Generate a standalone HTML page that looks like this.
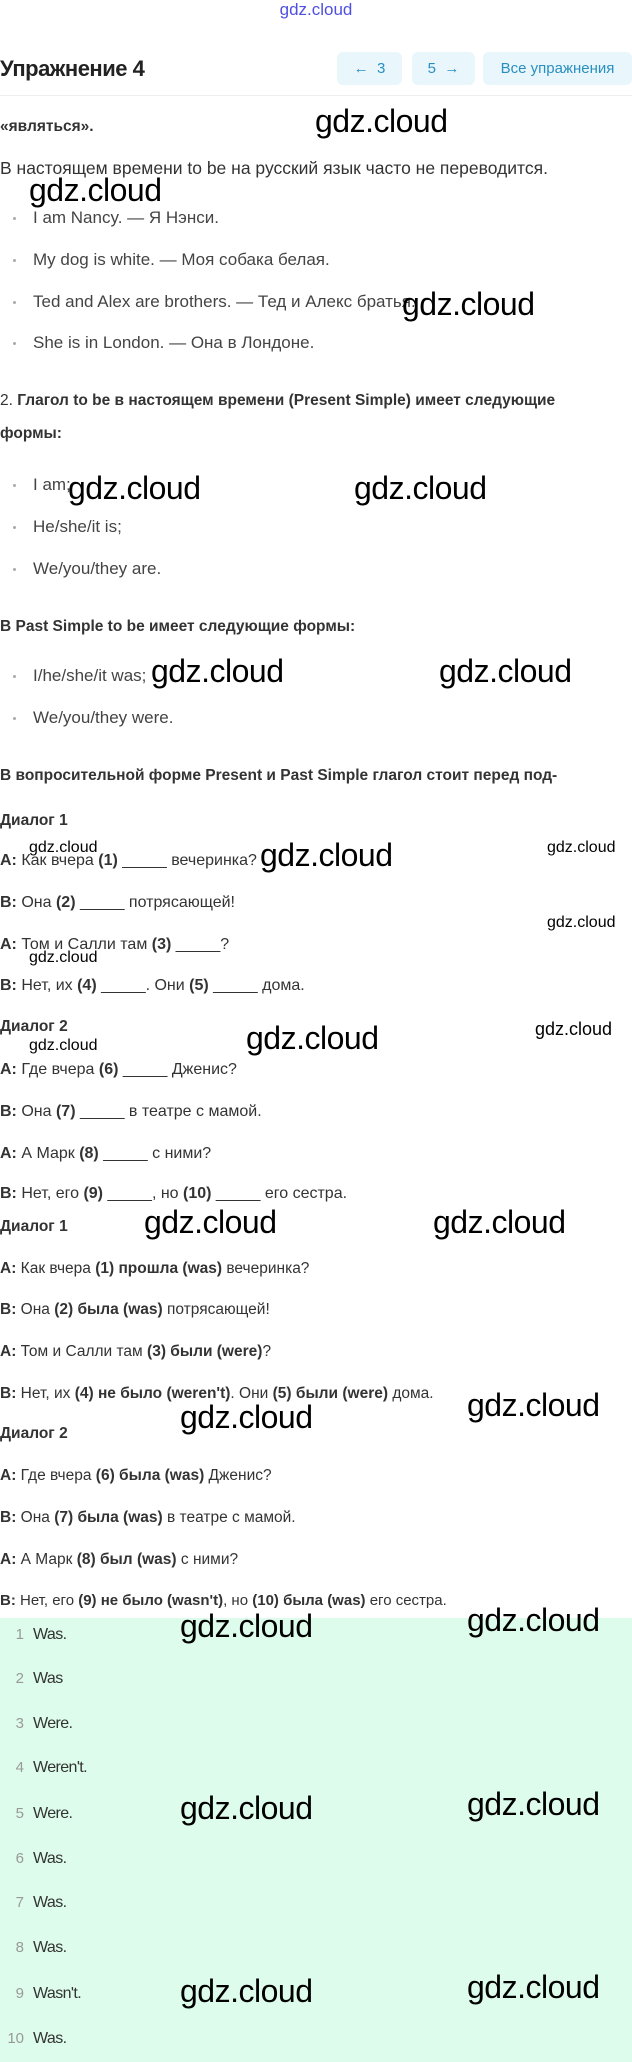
<!DOCTYPE html>
<html><head><meta charset="utf-8"><style>
body{margin:0;width:632px;height:2062px;position:relative;background:#fff;overflow:hidden;font-family:"Liberation Sans","Noto Sans CJK SC",sans-serif;color:#333}
.t{position:absolute;left:0;font-size:16px;line-height:20px;white-space:nowrap}
.b{font-weight:bold;font-size:15.5px}
.li{position:absolute;left:33px;font-size:17px;line-height:20px;white-space:nowrap;color:#444}
.li:before{content:"";position:absolute;left:-20px;top:9px;width:3px;height:3px;border-radius:50%;background:#aaa}
.w{position:absolute;font-size:32px;line-height:36px;color:#000;white-space:nowrap;letter-spacing:-0.5px}
.ws{position:absolute;font-size:16px;line-height:18px;color:#000;white-space:nowrap}
.btn{position:absolute;top:52px;height:33px;background:#e9f7fc;border-radius:6px;color:#2a8fc0;font-size:15px;line-height:33px;text-align:center}
.g{position:absolute;left:0;top:1618px;width:632px;height:444px;background:#ddfcec}
.n{position:absolute;left:0;width:24px;text-align:right;color:#999;font-size:15px;line-height:20px}
.a{position:absolute;left:33px;color:#333;font-size:16px;line-height:20px;letter-spacing:-0.6px}
</style></head><body>
<div style="position:absolute;left:0;width:632px;top:0;text-align:center;font-size:17px;line-height:20px;color:#5050e0">gdz.cloud</div>
<div style="position:absolute;left:0;top:54px;font-size:22px;line-height:30px;font-weight:bold;color:#222;letter-spacing:-0.5px">Упражнение 4</div>
<div class="btn" style="left:337px;width:65px">←&nbsp; 3</div>
<div class="btn" style="left:412px;width:63px">5 &nbsp;→</div>
<div class="btn" style="left:483px;width:149px">Все упражнения</div>
<div style="position:absolute;left:0;top:95px;width:632px;height:1px;background:#eee"></div>

<div class="t b" style="top:117px">«являться».</div>
<div class="t" style="top:158px;font-size:17.5px">В настоящем времени to be на русский язык часто не переводится.</div>
<div class="li" style="top:208px">I am Nancy. — Я Нэнси.</div>
<div class="li" style="top:250px">My dog is white. — Моя собака белая.</div>
<div class="li" style="top:292px">Ted and Alex are brothers. — Тед и Алекс братья.</div>
<div class="li" style="top:333px">She is in London. — Она в Лондоне.</div>
<div class="t b" style="top:391px"><span style="font-weight:normal">2.</span> Глагол to be в настоящем времени (Present Simple) имеет следующие</div>
<div class="t b" style="top:424px">формы:</div>
<div class="li" style="top:475px">I am;</div>
<div class="li" style="top:517px">He/she/it is;</div>
<div class="li" style="top:559px">We/you/they are.</div>
<div class="t b" style="top:617px">В Past Simple to be имеет следующие формы:</div>
<div class="li" style="top:666px">I/he/she/it was;</div>
<div class="li" style="top:708px">We/you/they were.</div>
<div class="t b" style="top:766px">В вопросительной форме Present и Past Simple глагол стоит перед под-</div>
<div class="t b" style="top:811px">Диалог 1</div>
<div class="t" style="top:851px"><b>A:</b> Как вчера <b>(1)</b> _____ вечеринка?</div>
<div class="t" style="top:893px"><b>B:</b> Она <b>(2)</b> _____ потрясающей!</div>
<div class="t" style="top:935px"><b>A:</b> Том и Салли там <b>(3)</b> _____?</div>
<div class="t" style="top:976px"><b>B:</b> Нет, их <b>(4)</b> _____. Они <b>(5)</b> _____ дома.</div>
<div class="t b" style="top:1017px">Диалог 2</div>
<div class="t" style="top:1060px"><b>A:</b> Где вчера <b>(6)</b> _____ Дженис?</div>
<div class="t" style="top:1102px"><b>B:</b> Она <b>(7)</b> _____ в театре с мамой.</div>
<div class="t" style="top:1144px"><b>A:</b> А Марк <b>(8)</b> _____ с ними?</div>
<div class="t" style="top:1184px"><b>B:</b> Нет, его <b>(9)</b> _____, но <b>(10)</b> _____ его сестра.</div>
<div class="t b" style="top:1217px">Диалог 1</div>
<div class="t" style="top:1259px;font-size:15.5px"><b>A:</b> Как вчера <b>(1) прошла (was)</b> вечеринка?</div>
<div class="t" style="top:1300px;font-size:15.5px"><b>B:</b> Она <b>(2) была (was)</b> потрясающей!</div>
<div class="t" style="top:1342px;font-size:15.5px"><b>A:</b> Том и Салли там <b>(3) были (were)</b>?</div>
<div class="t" style="top:1384px;font-size:15.5px"><b>B:</b> Нет, их <b>(4) не было (weren't)</b>. Они <b>(5) были (were)</b> дома.</div>
<div class="t b" style="top:1424px">Диалог 2</div>
<div class="t" style="top:1466px;font-size:15.5px"><b>A:</b> Где вчера <b>(6) была (was)</b> Дженис?</div>
<div class="t" style="top:1508px;font-size:15.5px"><b>B:</b> Она <b>(7) была (was)</b> в театре с мамой.</div>
<div class="t" style="top:1550px;font-size:15.5px"><b>A:</b> А Марк <b>(8) был (was)</b> с ними?</div>
<div class="t" style="top:1591px;font-size:15px"><b>B:</b> Нет, его <b>(9) не было (wasn't)</b>, но <b>(10) была (was)</b> его сестра.</div>

<div class="g"></div>
<div class="n" style="top:1625px">1</div><div class="a" style="top:1625px">Was.</div>
<div class="n" style="top:1669px">2</div><div class="a" style="top:1669px">Was</div>
<div class="n" style="top:1714px">3</div><div class="a" style="top:1714px">Were.</div>
<div class="n" style="top:1758px">4</div><div class="a" style="top:1758px">Weren't.</div>
<div class="n" style="top:1804px">5</div><div class="a" style="top:1804px">Were.</div>
<div class="n" style="top:1849px">6</div><div class="a" style="top:1849px">Was.</div>
<div class="n" style="top:1893px">7</div><div class="a" style="top:1893px">Was.</div>
<div class="n" style="top:1938px">8</div><div class="a" style="top:1938px">Was.</div>
<div class="n" style="top:1984px">9</div><div class="a" style="top:1984px">Wasn't.</div>
<div class="n" style="top:2029px">10</div><div class="a" style="top:2029px">Was.</div>

<div class="w" style="left:315px;top:103px">gdz.cloud</div>
<div class="w" style="left:29px;top:172px">gdz.cloud</div>
<div class="w" style="left:402px;top:286px">gdz.cloud</div>
<div class="w" style="left:68px;top:470px">gdz.cloud</div>
<div class="w" style="left:354px;top:470px">gdz.cloud</div>
<div class="w" style="left:151px;top:653px">gdz.cloud</div>
<div class="w" style="left:439px;top:653px">gdz.cloud</div>
<div class="ws" style="left:29px;top:839px">gdz.cloud</div>
<div class="w" style="left:260px;top:837px">gdz.cloud</div>
<div class="ws" style="left:547px;top:839px">gdz.cloud</div>
<div class="ws" style="left:547px;top:914px">gdz.cloud</div>
<div class="ws" style="left:29px;top:949px">gdz.cloud</div>
<div class="w" style="left:246px;top:1020px">gdz.cloud</div>
<div class="ws" style="left:535px;top:1020px;font-size:18px">gdz.cloud</div>
<div class="ws" style="left:29px;top:1037px">gdz.cloud</div>
<div class="w" style="left:144px;top:1204px">gdz.cloud</div>
<div class="w" style="left:433px;top:1204px">gdz.cloud</div>
<div class="w" style="left:180px;top:1399px">gdz.cloud</div>
<div class="w" style="left:467px;top:1387px">gdz.cloud</div>
<div class="w" style="left:180px;top:1608px">gdz.cloud</div>
<div class="w" style="left:467px;top:1602px">gdz.cloud</div>
<div class="w" style="left:180px;top:1790px">gdz.cloud</div>
<div class="w" style="left:467px;top:1786px">gdz.cloud</div>
<div class="w" style="left:180px;top:1973px">gdz.cloud</div>
<div class="w" style="left:467px;top:1969px">gdz.cloud</div>
</body></html>
